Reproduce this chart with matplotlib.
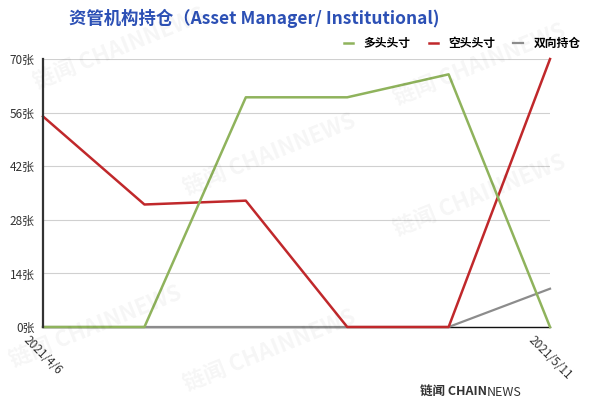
import matplotlib.pyplot as plt
import numpy as np

plt.rcParams['font.family'] = ['Noto Sans CJK SC', 'DejaVu Sans']

# dati settimanali
dates = ['2021/4/6', '2021/4/13', '2021/4/20', '2021/4/27', '2021/5/4', '2021/5/11']
long_pos = [0, 0, 60, 60, 66, 0]
short_pos = [55, 32, 33, 0, 0, 70]
spread_pos = [0, 0, 0, 0, 0, 10]
series_names = ['多头头寸', '空头头寸', '双向持仓']
y_ticks = [0, 14, 28, 42, 56, 70]

fig = plt.figure(figsize=(6, 4.09), dpi=100)
ax = fig.add_axes([0.0717, 0.2005, 0.845, 0.6552])

ax.spines['bottom'].set_color('#111111')
ax.spines['bottom'].set_linewidth(1.0)
ax.spines['bottom'].set_zorder(1)

x = np.arange(len(dates))
ax.plot(x, spread_pos, color='#8c8c8c', linewidth=1.6, label=series_names[2], zorder=3, clip_on=False)
ax.plot(x, short_pos, color='#c0282b', linewidth=1.8, label=series_names[1], zorder=4, clip_on=False)
ax.plot(x, long_pos, color='#8fb35c', linewidth=1.8, label=series_names[0], zorder=5, clip_on=False)

ax.set_xlim(0, len(dates) - 1)
ax.set_ylim(0, 70)
ax.set_yticks(y_ticks)
ax.set_yticklabels([str(v) + '张' for v in y_ticks], fontsize=8.5, color='#333333')
ax.set_xticks([0, len(dates) - 1])
ax.set_xticklabels([dates[0], dates[-1]], rotation=-45, ha='center', va='top',
                   fontsize=8.5, color='#333333')
ax.tick_params(length=0)
ax.tick_params(axis='y', pad=6)
ax.tick_params(axis='x', pad=5)

ax.grid(axis='y', color='#d0d0d0', linewidth=0.8)
ax.set_axisbelow(True)
for s in ['top', 'right']:
    ax.spines[s].set_visible(False)
ax.spines['left'].set_color('#333333')
ax.spines['left'].set_linewidth(1.6)
ax.spines['left'].set_zorder(6)

# legenda in alto a destra
handles, labels = ax.get_legend_handles_labels()
order = [2, 1, 0]
leg = fig.legend([handles[i] for i in order], [labels[i] for i in order],
                 loc='upper right', bbox_to_anchor=(0.985, 0.935), ncol=3, frameon=False,
                 fontsize=8.5, handlelength=0.8, handletextpad=0.9, columnspacing=1.5)
for t in leg.get_texts():
    t.set_fontweight('bold')

fig.text(0.423, 0.955, '资管机构持仓（Asset Manager/ Institutional)', ha='center', va='center',
         fontsize=12.5, fontweight='bold', color='#2c50b5')

# watermark
for (wx, wy) in [(0.2, 0.88), (0.45, 0.62), (0.16, 0.2), (0.45, 0.14), (0.8, 0.52), (0.8, 0.84)]:
    fig.text(wx, wy, '链闻 CHAINNEWS', rotation=22, ha='center', va='center',
             fontsize=16, fontweight='bold', color='#000000', alpha=0.04)

# logo in basso a destra
r = fig.canvas.get_renderer()
t1 = fig.text(0.7, 0.04, '链闻 CHAIN', fontsize=9, fontweight='bold', color='#333333', va='center')
bb = t1.get_window_extent(r).transformed(fig.transFigure.inverted())
fig.text(bb.x1, 0.04, 'NEWS', fontsize=9, color='#333333', va='center')

fig.savefig('out.png', dpi=100)
